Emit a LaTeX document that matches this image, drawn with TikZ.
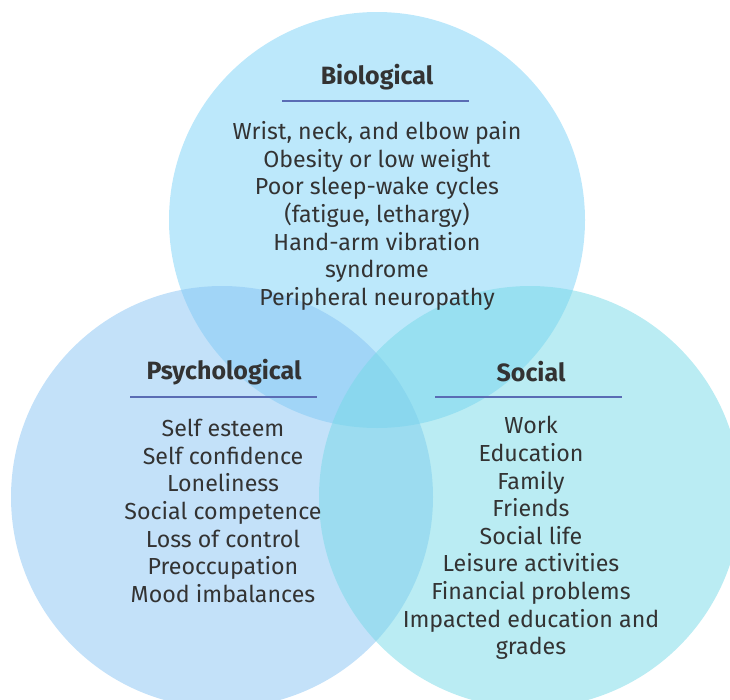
\documentclass[tikz,border=0pt]{standalone}
\usepackage{fontspec}
\setmainfont{Fira Sans}
\usetikzlibrary{positioning}
\definecolor{bioblue}{RGB}{122,209,247}
\definecolor{psyblue}{RGB}{135,195,243}
\definecolor{socblue}{RGB}{117,217,231}
\definecolor{textgray}{RGB}{51,51,51}
\definecolor{rulecol}{RGB}{90,108,180}

\begin{document}
\begin{tikzpicture}[x=1pt, y=-1pt,
    area/.style={fill opacity=0.5},
    heading/.style={font=\fontsize{25}{28}\selectfont\bfseries, text=textgray},
    body/.style={font=\fontsize{23.2}{27.6}\selectfont, text=textgray, align=center},
    headrule/.style={rulecol, line width=1.4pt}]
    \useasboundingbox (0,0) rectangle (730,699);
    \clip (0,0) rectangle (730,699);

    % The three overlapping circles
    \fill[area, bioblue] (377,220) circle (208);
    \fill[area, psyblue] (222,497) circle (211);
    \fill[area, socblue] (530,497) circle (211);

    % Biological
    \node[heading] (bio) at (377,77) {Biological};
    \draw[headrule] (282,101) -- (469,101);
    \node[body] (biolist) at (377,216) {Wrist, neck, and elbow pain\\
        Obesity or low weight\\
        Poor sleep-wake cycles\\
        (fatigue, lethargy)\\
        Hand-arm vibration\\
        syndrome\\
        Peripheral neuropathy};

    % Psychological
    \node[heading] (psy) at (224,372) {Psychological};
    \draw[headrule] (130,397) -- (317,397);
    \node[body] (psylist) at (223,511) {Self esteem\\
        Self confidence\\
        Loneliness\\
        Social competence\\
        Loss of control\\
        Preoccupation\\
        Mood imbalances};

    % Social
    \node[heading] (soc) at (531,372) {Social};
    \draw[headrule] (435,397) -- (622,397);
    \node[body] (soclist) at (531,538) {Work\\
        Education\\
        Family\\
        Friends\\
        Social life\\
        Leisure activities\\
        Financial problems\\
        Impacted education and\\
        grades};
\end{tikzpicture}
\end{document}
